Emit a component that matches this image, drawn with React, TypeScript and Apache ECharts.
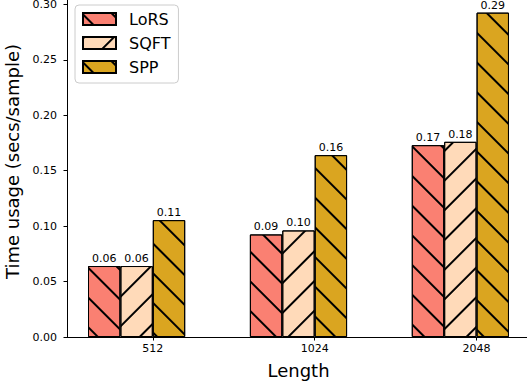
import React, { useEffect, useRef } from "react";
import * as echarts from "echarts";

const lengths = ["512", "1024", "2048"];
const seriesNames = ["LoRS", "SQFT", "SPP"];
const lorsValues = [0.064, 0.0925, 0.173];
const sqftValues = [0.064, 0.0961, 0.176];
const sppValues = [0.1054, 0.164, 0.2925];
const yTicks = [0, 0.05, 0.1, 0.15, 0.2, 0.25, 0.3];

const colors = ["#FA8072", "#FFDAB9", "#DAA520"];
const FONT = "DejaVu Sans";

function hatch(dir: number) {
  return {
    symbol: "rect",
    symbolSize: 1,
    dashArrayX: [1, 0],
    dashArrayY: [1.4, 18.6],
    rotation: dir * Math.PI / 4,
    color: "#000",
  };
}

export default function App() {
  const ref = useRef<HTMLDivElement>(null);
  useEffect(() => {
    if (!ref.current) return;
    const chart = echarts.init(ref.current, null, { renderer: "svg" });
    const allValues = [lorsValues, sqftValues, sppValues];
    const dirs = [1, -1, 1];
    const series: any[] = allValues.map((vals, si) => ({
      name: seriesNames[si],
      type: "bar",
      barWidth: 32.4,
      barGap: "0%",
      data: vals.map((v, i) => [i, v]),
      itemStyle: {
        color: colors[si],
        borderColor: "#000",
        borderWidth: 1,
        decal: hatch(dirs[si]),
      },
      label: {
        show: true,
        position: "top",
        distance: 2,
        fontFamily: FONT,
        fontSize: 11,
        color: "#000",
        formatter: (p: any) => Number(p.value[1]).toFixed(2),
      },
    }));
    series.push({
      name: "_pad",
      type: "bar",
      barWidth: 32.4,
      barGap: "0%",
      silent: true,
      data: lengths.map((_, i) => [i, 0]),
      itemStyle: { opacity: 0 },
      label: { show: false },
    });
    chart.setOption({
      animation: false,
      aria: { decal: { show: false } },
      textStyle: { fontFamily: FONT },
      grid: {
        left: 67,
        top: -3,
        width: 463,
        height: 340,
        containLabel: false,
        outerBoundsMode: "none",
      },
      legend: {
        data: seriesNames,
        orient: "vertical",
        left: 75,
        top: 5,
        icon: "rect",
        itemWidth: 33,
        itemHeight: 12,
        itemGap: 8,
        padding: [6, 8, 8, 7],
        backgroundColor: "rgba(255,255,255,0.8)",
        borderColor: "#ccc",
        borderWidth: 1,
        borderRadius: 4,
        formatter: (name: string) => `{gap|}{t|${name}}`,
        textStyle: {
          fontFamily: FONT,
          fontSize: 16,
          color: "#000",
          rich: {
            gap: { width: 8 },
            t: { fontFamily: FONT, fontSize: 16, color: "#000" },
          },
        },
      },
      xAxis: {
        type: "value",
        min: -0.53,
        max: 2.33,
        name: "Length",
        nameLocation: "middle",
        nameGap: 24,
        nameTextStyle: { fontFamily: FONT, fontSize: 18, color: "#000" },
        axisLine: { show: true, onZero: false, lineStyle: { color: "#000", width: 1 } },
        axisTick: { show: true, length: 3.5, customValues: [0, 1, 2], lineStyle: { color: "#000" } },
        axisLabel: {
          customValues: [0, 1, 2],
          fontFamily: FONT,
          fontSize: 11,
          color: "#000",
          margin: 6,
          formatter: (v: number) => lengths[Math.round(v)],
        },
        splitLine: { show: false },
      },
      yAxis: {
        type: "value",
        min: 0,
        max: 0.3066,
        name: "Time usage (secs/sample)",
        nameLocation: "middle",
        nameGap: 42,
        nameTextStyle: { fontFamily: FONT, fontSize: 18, color: "#000", padding: [0, 0, 0, 11] },
        axisLine: { show: true, onZero: false, lineStyle: { color: "#000", width: 1 } },
        axisTick: { show: true, length: 3.5, customValues: yTicks, lineStyle: { color: "#000" } },
        axisLabel: {
          customValues: yTicks,
          fontFamily: FONT,
          fontSize: 11,
          color: "#000",
          margin: 10,
          formatter: (v: number) => v.toFixed(2),
        },
        splitLine: { show: false },
      },
      series,
    });
    return () => chart.dispose();
  }, []);
  return (
    <div
      ref={ref}
      style={{ position: "fixed", left: 0, top: 0, width: 527, height: 389, background: "#fff" }}
    />
  );
}
